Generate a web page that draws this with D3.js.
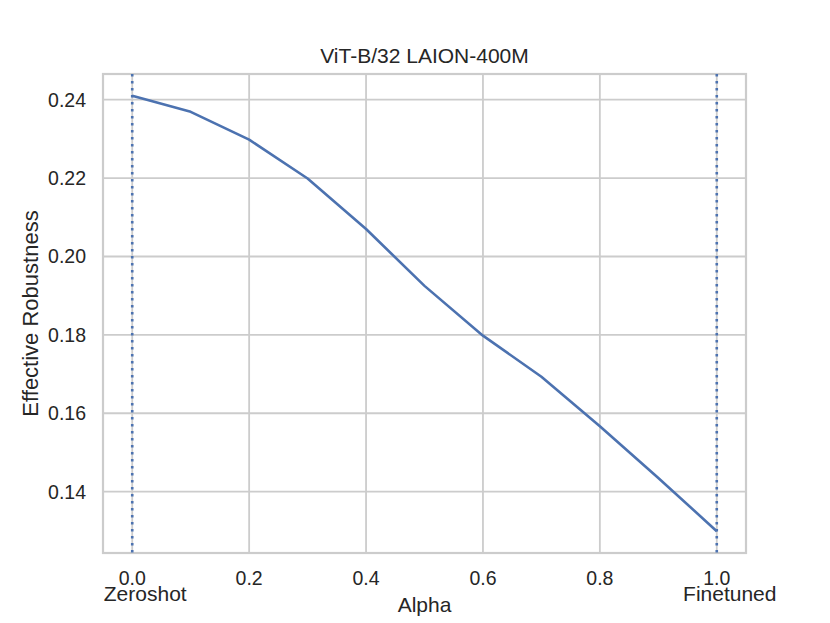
<!DOCTYPE html>
<html>
<head>
<meta charset="utf-8">
<script src="https://cdn.jsdelivr.net/npm/d3@7"></script>
<style>
  body { margin: 0; background: #fff; }
  text { font-family: "Liberation Sans", Arial, sans-serif; fill: #262626; }
</style>
</head>
<body>
<div id="chart"></div>
<script>
// values
var alphas = [0.0, 0.1, 0.2, 0.3, 0.4, 0.5, 0.6, 0.7, 0.8, 0.9, 1.0];
var robustness = [0.2410, 0.2369, 0.2298, 0.2199, 0.2070, 0.1925, 0.1798, 0.1693, 0.1567, 0.1435, 0.1299];
var xTicks = [0, 0.2, 0.4, 0.6, 0.8, 1.0];
var yTicks = [0.14, 0.16, 0.18, 0.20, 0.22, 0.24];
var endLabels = [{x: 0, name: "Zeroshot"}, {x: 1, name: "Finetuned"}];

var W = 830, H = 623;
var margin = {top: 74, right: 84, bottom: 70, left: 103},
    width = W - margin.left - margin.right,
    height = H - margin.top - margin.bottom;

var blue = "#4c72b0", grey = "#cccccc";

var svg = d3.select("#chart")
  .append("svg")
    .attr("width", W)
    .attr("height", H)
  .append("g")
    .attr("transform", "translate(" + margin.left + "," + margin.top + ")");

var x = d3.scaleLinear().domain([-0.05, 1.05]).range([0, width]);
var y = d3.scaleLinear().domain([0.12434, 0.24656]).range([height, 0]);

// grid
svg.append("g")
  .selectAll("line.vg")
  .data(xTicks)
  .enter().append("line")
    .attr("x1", function(d) { return x(d); })
    .attr("x2", function(d) { return x(d); })
    .attr("y1", 0).attr("y2", height)
    .attr("stroke", grey).attr("stroke-width", 1.8);

svg.append("g")
  .selectAll("line.hg")
  .data(yTicks)
  .enter().append("line")
    .attr("y1", function(d) { return y(d); })
    .attr("y2", function(d) { return y(d); })
    .attr("x1", 0).attr("x2", width)
    .attr("stroke", grey).attr("stroke-width", 1.8);

// spines
svg.append("rect")
  .attr("width", width).attr("height", height)
  .attr("fill", "none").attr("stroke", grey).attr("stroke-width", 2.2);

// vertical dotted markers
svg.selectAll("line.vm")
  .data(endLabels)
  .enter().append("line")
    .attr("x1", function(d) { return x(d.x); })
    .attr("x2", function(d) { return x(d.x); })
    .attr("y1", 0).attr("y2", height)
    .attr("stroke", blue).attr("stroke-width", 2.6)
    .attr("stroke-dasharray", "2.6,4.4");

// line
var line = d3.line()
  .x(function(d, i) { return x(alphas[i]); })
  .y(function(d) { return y(d); });

svg.append("path")
  .datum(robustness)
  .attr("d", line)
  .attr("fill", "none")
  .attr("stroke", blue)
  .attr("stroke-width", 2.6)
  .attr("stroke-linejoin", "round");

// y tick labels
svg.selectAll("text.yt")
  .data(yTicks)
  .enter().append("text")
    .attr("x", -17)
    .attr("y", function(d) { return y(d); })
    .attr("dy", "0.36em")
    .attr("text-anchor", "end")
    .style("font-size", "19.5px")
    .text(function(d) { return d3.format(".2f")(d); });

// x tick labels
svg.selectAll("text.xt")
  .data(xTicks)
  .enter().append("text")
    .attr("x", function(d) { return x(d); })
    .attr("y", height + 32)
    .attr("text-anchor", "middle")
    .style("font-size", "19.5px")
    .text(function(d) { return d3.format(".1f")(d); });

svg.selectAll("text.el")
  .data(endLabels)
  .enter().append("text")
    .attr("x", function(d) { return x(d.x) + 13; })
    .attr("y", height + 48)
    .attr("text-anchor", "middle")
    .style("font-size", "21px")
    .text(function(d) { return d.name; });

// axis labels
svg.append("text")
  .attr("x", width / 2)
  .attr("y", height + 59)
  .attr("text-anchor", "middle")
  .style("font-size", "21px")
  .text("Alpha");

svg.append("text")
  .attr("transform", "rotate(-90)")
  .attr("x", -height / 2)
  .attr("y", -65)
  .attr("text-anchor", "middle")
  .style("font-size", "22px")
  .text("Effective Robustness");

// title
svg.append("text")
  .attr("x", width / 2)
  .attr("y", -11)
  .attr("text-anchor", "middle")
  .style("font-size", "21px")
  .text("ViT-B/32 LAION-400M");
</script>
</body>
</html>
